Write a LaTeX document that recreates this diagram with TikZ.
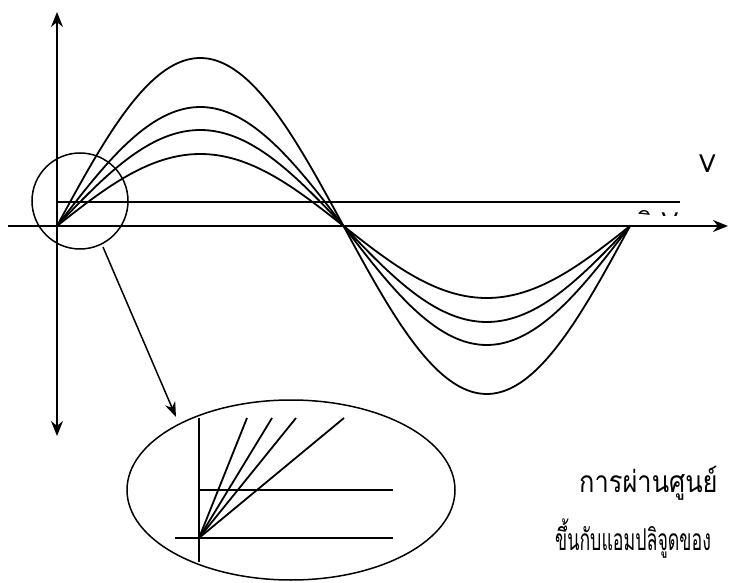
\documentclass[tikz,border=0pt]{standalone}
\usepackage{fontspec}
\setmainfont{Liberation Sans}
\newfontfamily\thaifont[Script=Thai]{Loma}
\usetikzlibrary{arrows.meta,shapes.geometric}
\tikzset{
  axis/.style={line width=2.1pt,-{Stealth[length=15pt,width=12pt]}},
  wave/.style={line width=1.8pt},
  thin line/.style={line width=1.8pt},
  lbl/.style={font=\thaifont\fontsize{25}{28}\selectfont,inner sep=0pt},
  thai/.style={font=\thaifont\fontsize{24}{28}\selectfont,inner sep=0pt},
}
\begin{document}
\begin{tikzpicture}[x=1pt,y=-1pt]
\useasboundingbox (0,0) rectangle (729,583);
% axes
\coordinate (O) at (57,226);
\coordinate (ytop) at (57,12);
\coordinate (ybot) at (57,436);
\coordinate (xl) at (8,226);
\coordinate (xr) at (728,226);
\draw[axis] (O) -- (ytop);
\draw[axis] (O) -- (ybot);
\draw[axis] (xl) -- (xr);
% reference level line
\coordinate (hl) at (680,202);
\draw[thin line] (57,202) -- (hl);
% waves
\foreach \A in {168,119,96,72}{
  \draw[wave] plot[domain=57:630,samples=160] (\x,{226-\A*sin((\x-57)/286.5*180)});
}
% labels
\node[lbl,anchor=base west] (V) at (699,173) {V};
\begin{scope}
  \clip (600,208) rectangle (720,215.5);
  \node[lbl,anchor=base west] (Vcut) at (636,231) {นิ V};
\end{scope}
% zoom circle
\node[draw,circle,line width=1.5pt,minimum size=96pt,inner sep=0pt] (zc) at (80,201) {};
% ellipse
\node[draw,ellipse,line width=1.5pt,minimum width=328pt,minimum height=180pt,inner sep=0pt] (ze) at (291,490) {};
\coordinate (zs) at (103,247);
\coordinate (zt) at (176,417);
\draw[line width=1.5pt,-{Stealth[length=15pt,width=11pt]}] (zs) -- (zt);
% inside ellipse
\coordinate (o2) at (199,538);
\draw[thin line] (199,418) -- (199,562);
\draw[thin line] (175,538) -- (393,538);
\draw[thin line] (199,490) -- (393,490);
\foreach \xx in {247,272,296,344}{
  \draw[thin line] (o2) -- (\xx,418);
}
% thai text
\node[thai,anchor=base west] (t1) at (579,492) {\scalebox{1.06}[1.25]{การผ่านศูนย์}};
\node[thai,anchor=base west] (t2) at (555,550) {\scalebox{0.74}[1.25]{ขึ้นกับแอมปลิจูดของ}};
\end{tikzpicture}
\end{document}
